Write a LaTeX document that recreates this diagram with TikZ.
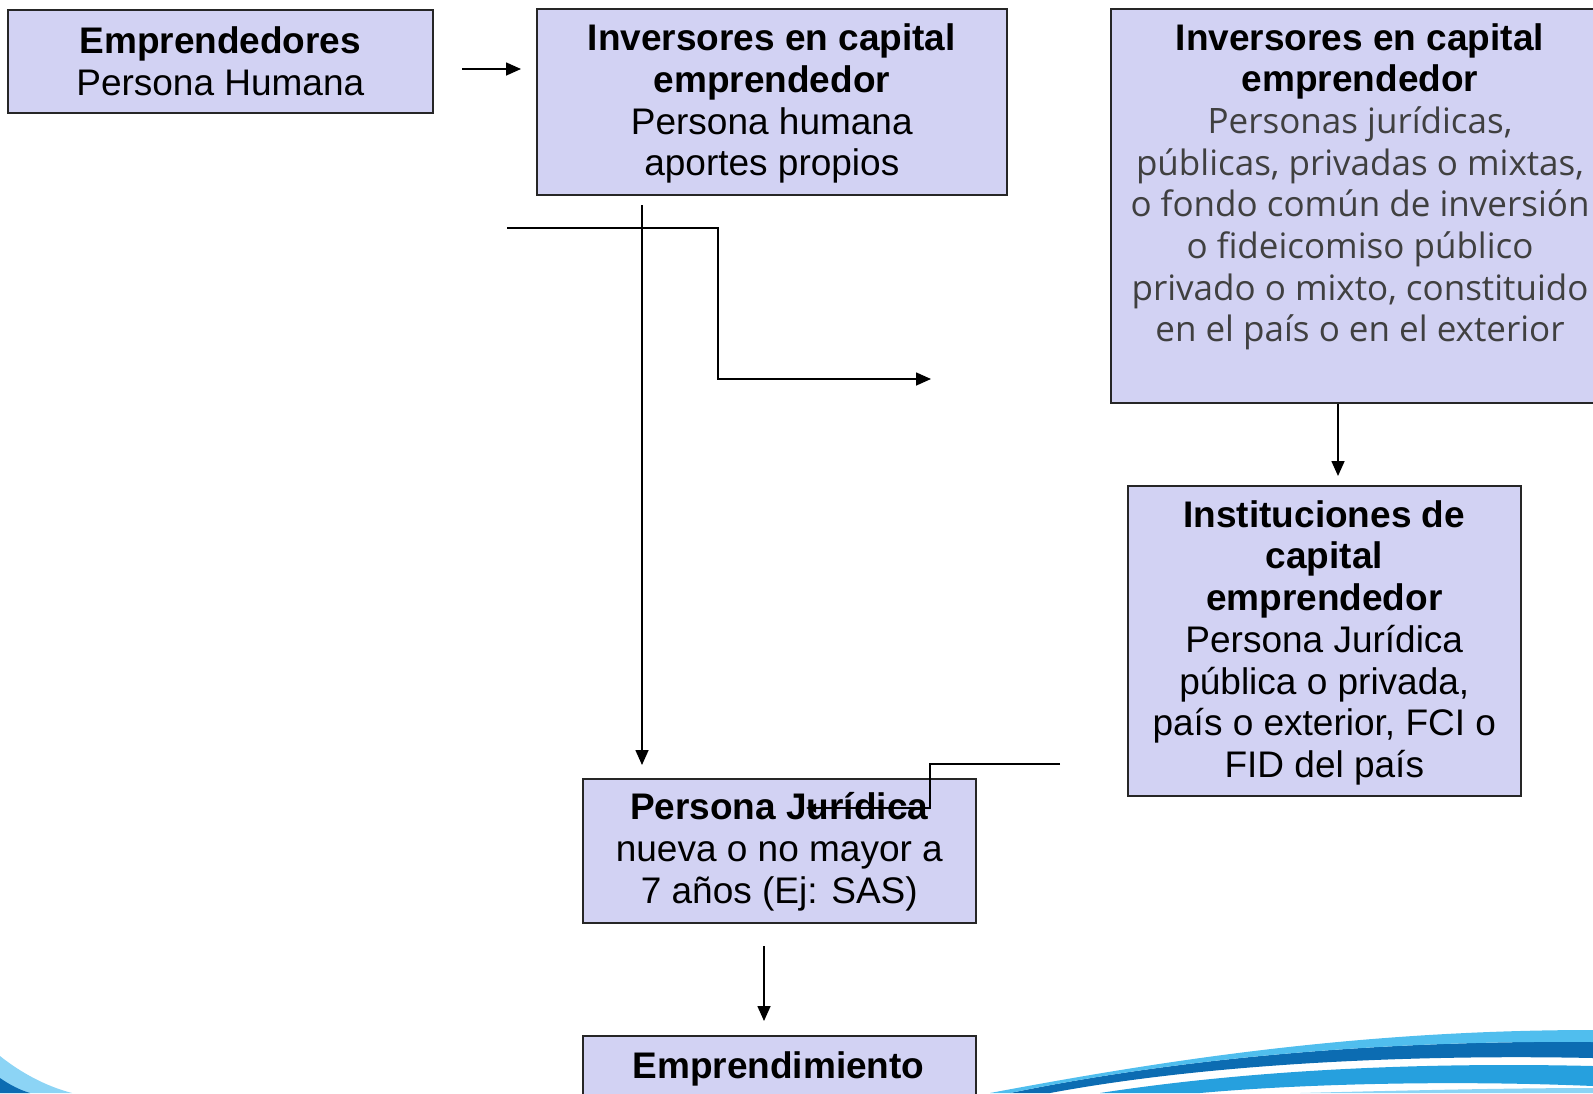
\documentclass[tikz,border=0pt]{standalone}
\usepackage{fontspec}
\setmainfont{Liberation Sans}
\newfontfamily\osans{Open Sans}
\usetikzlibrary{arrows.meta}
\definecolor{boxfill}{RGB}{210,210,243}
\definecolor{graytxt}{RGB}{64,64,64}
\definecolor{swA}{RGB}{80,190,238}
\definecolor{swB}{RGB}{12,108,178}
\definecolor{swC}{RGB}{38,160,222}
\definecolor{swD}{RGB}{140,212,245}
\tikzset{
  boxst/.style={draw=black!85, line width=1.6pt, fill=boxfill, inner sep=0pt, anchor=north west},
  txt/.style={align=center, inner sep=0pt, font=\fontsize{37}{41.7}\selectfont},
  conn/.style={draw=black, line width=1.6pt},
  tipst/.style={-{Triangle[length=15pt,width=13pt]}},
  smalltip/.style={-{Triangle[length=10pt,width=9pt]}},
}
\newcommand{\graybody}[1]{{\osans\fontsize{35}{41.7}\selectfont\color{graytxt}#1}}
\begin{document}
\begin{tikzpicture}[x=1pt,y=-1pt]
\useasboundingbox (0,0) rectangle (1593,1093);
\begin{scope}
\clip (0,0) rectangle (1593,1093);
% swooshes
\fill[swD] (1300,1093) .. controls (1420,1090) and (1520,1088) .. (1593,1088) -- (1593,1093) -- cycle;
\fill[swC] (1100,1093) .. controls (1250,1070) and (1420,1062) .. (1593,1066) -- (1593,1086) .. controls (1450,1080) and (1300,1084) .. (1200,1093) -- cycle;
\fill[swB] (1010,1093) .. controls (1170,1060) and (1370,1040) .. (1593,1042) -- (1593,1058) .. controls (1400,1054) and (1200,1065) .. (1050,1093) -- cycle;
\fill[swA] (990,1093) .. controls (1150,1063) and (1350,1030) .. (1593,1030) -- (1593,1042) .. controls (1370,1040) and (1170,1060) .. (1010,1093) -- cycle;
\fill[swD] (0,1056) .. controls (20,1072) and (45,1086) .. (72,1093) -- (0,1093) -- cycle;
\fill[swB] (0,1078) .. controls (10,1085) and (20,1090) .. (30,1093) -- (0,1093) -- cycle;

% boxes
\node[boxst, minimum width=425pt, minimum height=103pt] (b1) at (7,9) {};
\node[txt] (t1) at (b1.center) {\textbf{Emprendedores}\\Persona Humana};

\node[boxst, minimum width=470pt, minimum height=186pt] (b2) at (536,8) {};
\node[txt] (t2) at ([yshift=-2pt]b2.center) {\textbf{Inversores en capital}\\\textbf{emprendedor}\\Persona humana\\aportes propios};

\node[boxst, minimum width=500pt, minimum height=394pt] (b3) at (1110,8) {};
\node[txt, anchor=north] (t3) at (1360,23) {\textbf{Inversores en capital}\\\textbf{emprendedor}\\
\graybody{Personas jurídicas,}\\
\graybody{públicas, privadas o mixtas,}\\
\graybody{o fondo común de inversión}\\
\graybody{o fideicomiso público}\\
\graybody{privado o mixto, constituido}\\
\graybody{en el país o en el exterior}};

\node[boxst, minimum width=393pt, minimum height=310pt] (b4) at (1127,485) {};
\node[txt] (t4) at ([yshift=-2pt]b4.center) {\textbf{Instituciones de}\\\textbf{capital}\\\textbf{emprendedor}\\Persona Jurídica\\pública o privada,\\país o exterior, FCI o\\FID del país};

\node[boxst, minimum width=393pt, minimum height=144pt] (b5) at (582,778) {};
\node[txt] (t5) at ([yshift=-1pt]b5.center) {\textbf{Persona Jurídica}\\nueva o no mayor a\\7 años (Ej: SAS)};

\node[boxst, minimum width=393pt, minimum height=100pt] (b6) at (582,1035) {};
\node[txt, anchor=center] (t6) at (778.5,1069) {\textbf{Emprendimiento}};

% connector end points
\coordinate (a1s) at (462,69);
\coordinate (a1e) at (521,69);
\coordinate (a2s) at (642,205);
\coordinate (a2e) at (642,765);
\coordinate (a3s) at (507,228);
\coordinate (a3k1) at (718,228);
\coordinate (a3k2) at (718,379);
\coordinate (a3e) at (931,379);
\coordinate (a4e) at (1338,476);
\coordinate (a5s) at (1060,764);
\coordinate (a5k1) at (930,764);
\coordinate (a5k2) at (930,808);
\coordinate (a5e) at (806,808);
\coordinate (a6s) at (764,946);
\coordinate (a6e) at (764,1021);

% connectors
\draw[conn, tipst] (a1s) -- (a1e);
\draw[conn, tipst] (a2s) -- (a2e);
\draw[conn, tipst] (a3s) -- (a3k1) -- (a3k2) -- (a3e);
\draw[conn, tipst] (b3.south -| a4e) -- (a4e);
\draw[draw=black, line width=1.2pt, smalltip] (a5s) -- (a5k1) -- (a5k2) -- (a5e);
\draw[conn, tipst] (a6s) -- (a6e);
\end{scope}
\end{tikzpicture}
\end{document}
